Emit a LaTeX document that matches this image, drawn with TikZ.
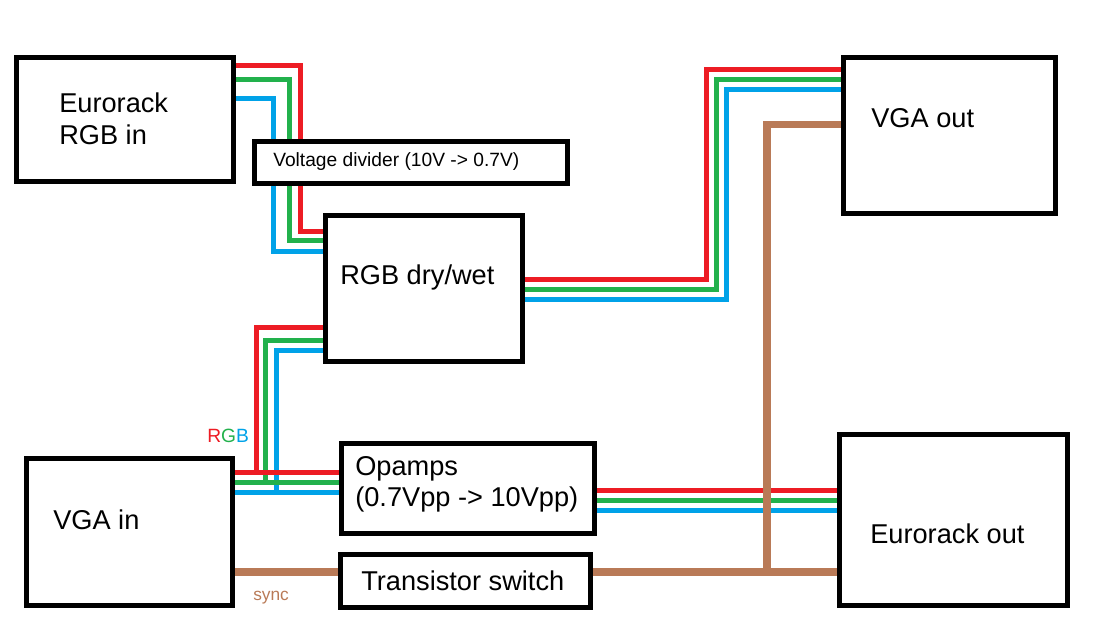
\documentclass[tikz,border=0pt]{standalone}
\usepackage{fontspec}
\setmainfont{Liberation Sans}
\definecolor{pred}{HTML}{ED1C24}
\definecolor{pgreen}{HTML}{22B14C}
\definecolor{pblue}{HTML}{00A2E8}
\definecolor{pbrown}{HTML}{B97A57}
\tikzset{
  box/.style={draw=black, line width=3.75pt, fill=white, inner sep=0pt, rectangle},
  wire/.style={line width=3.75pt},
  syncwire/.style={line width=5.6pt, pbrown},
  lbl/.style={anchor=base west, inner sep=0pt, font=\fontsize{20.4}{24}\selectfont},
  smalllbl/.style={anchor=base west, inner sep=0pt, font=\fontsize{14.4}{17}\selectfont},
}
\begin{document}
\begin{tikzpicture}[x=0.75pt, y=-0.75pt]
\useasboundingbox (0,0) rectangle (1096,634);
% boxes
\node[box, minimum width=217*0.75pt, minimum height=124*0.75pt] (eri) at (125,119.5) {};
\node[box, minimum width=312.5*0.75pt, minimum height=42*0.75pt] (vd) at (410.75,162.5) {};
\node[box, minimum width=197*0.75pt, minimum height=145.5*0.75pt] (rgb) at (424,288.75) {};
\node[box, minimum width=212*0.75pt, minimum height=156*0.75pt] (vgaout) at (949.5,135.5) {};
\node[box, minimum width=206*0.75pt, minimum height=147*0.75pt] (vgain) at (129.5,532) {};
\node[box, minimum width=253*0.75pt, minimum height=89.5*0.75pt] (opamps) at (468,488.25) {};
\node[box, minimum width=250*0.75pt, minimum height=52.5*0.75pt] (ts) at (465.5,580.75) {};
\node[box, minimum width=228*0.75pt, minimum height=170.5*0.75pt] (ero) at (953.5,519.75) {};
% texts
\node[lbl] (t-eri1) at (59,113) {Eurorack};
\node[lbl] (t-eri2) at (59,145) {RGB in};
\node[smalllbl] (t-vd) at (273,167) {Voltage divider (10V -> 0.7V)};
\node[lbl] (t-rgb) at (340,285) {RGB dry/wet};
\node[lbl] (t-vgaout) at (871,128) {VGA out};
\node[lbl] (t-op1) at (355,475) {Opamps};
\node[lbl] (t-op2) at (355,506) {(0.7Vpp -> 10Vpp)};
\node[lbl] (t-vgain) at (53,529) {VGA in};
\node[lbl] (t-ts) at (361,590) {Transistor switch};
\node[lbl] (t-ero) at (870,543) {Eurorack out};
\node[smalllbl] (t-rgblbl) at (207,442) {\textcolor{pred}{R}\textcolor{pgreen}{G}\textcolor{pblue}{B}};
\node[anchor=base west, inner sep=0pt, font=\fontsize{13}{15}\selectfont, text=pbrown] (t-sync) at (253,600) {sync};
% Eurorack RGB in -> voltage divider
\draw[wire,pred] (eri.east |- 0,66) -| (vd.north -| 300,0);
\draw[wire,pgreen] (eri.east |- 0,80) -| (vd.north -| 289,0);
\draw[wire,pblue] (eri.east |- 0,99) -| (vd.north -| 273,0);
% voltage divider -> RGB dry/wet
\draw[wire,pred] (vd.south -| 300,0) |- (rgb.west |- 0,232);
\draw[wire,pgreen] (vd.south -| 289,0) |- (rgb.west |- 0,241);
\draw[wire,pblue] (vd.south -| 273,0) |- (rgb.west |- 0,252);
% RGB dry/wet -> VGA out
\draw[wire,pred] (rgb.east |- 0,279.5) -- (706,279.5) -- (706,69.5) -- (vgaout.west |- 0,69.5);
\draw[wire,pgreen] (rgb.east |- 0,289.5) -- (716,289.5) -- (716,79.5) -- (vgaout.west |- 0,79.5);
\draw[wire,pblue] (rgb.east |- 0,299.5) -- (726.5,299.5) -- (726.5,89.5) -- (vgaout.west |- 0,89.5);
% VGA in -> RGB dry/wet branch
\coordinate (jr) at (256.5,472);
\coordinate (jg) at (265.5,482);
\coordinate (jb) at (276.5,492);
\draw[wire,pred] (jr) |- (rgb.west |- 0,328);
\draw[wire,pgreen] (jg) |- (rgb.west |- 0,340.5);
\draw[wire,pblue] (jb) |- (rgb.west |- 0,350.5);
% VGA in -> opamps
\draw[wire,pred] (vgain.east |- 0,472) -- (opamps.west |- 0,472);
\draw[wire,pgreen] (vgain.east |- 0,482) -- (opamps.west |- 0,482);
\draw[wire,pblue] (vgain.east |- 0,492) -- (opamps.west |- 0,492);
% opamps -> Eurorack out
\draw[wire,pred] (opamps.east |- 0,490.5) -- (ero.west |- 0,490.5);
\draw[wire,pgreen] (opamps.east |- 0,500.5) -- (ero.west |- 0,500.5);
\draw[wire,pblue] (opamps.east |- 0,510.5) -- (ero.west |- 0,510.5);
% sync
\draw[syncwire] (vgain.east |- 0,572) -- (ts.west |- 0,572);
\draw[syncwire] (ts.east |- 0,572) -- (ero.west |- 0,572);
\coordinate (js) at (767,572);
\draw[syncwire] (js) |- (vgaout.west |- 0,124.5);
\end{tikzpicture}
\end{document}
